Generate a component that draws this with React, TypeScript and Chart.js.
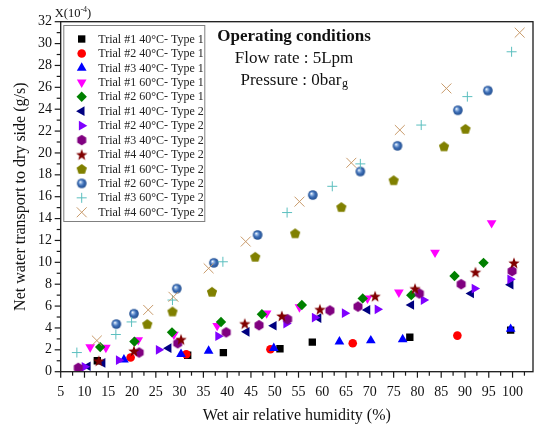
import React, { useEffect, useRef } from 'react';
import { Chart, registerables } from 'chart.js';
import { drawPoint } from 'chart.js/helpers';

Chart.register(...registerables);

// ---------------- data ----------------
const seriesNames = [
  'Trial #1 40°C- Type 1',
  'Trial #2 40°C- Type 1',
  'Trial #3 40°C- Type 1',
  'Trial #1 60°C- Type 1',
  'Trial #2 60°C- Type 1',
  'Trial #1 40°C- Type 2',
  'Trial #2 40°C- Type 2',
  'Trial #3 40°C- Type 2',
  'Trial #4 40°C- Type 2',
  'Trial #1 60°C- Type 2',
  'Trial #2 60°C- Type 2',
  'Trial #3 60°C- Type 2',
  'Trial #4 60°C- Type 2',
];

const t1_40_t1_x = [12.7, 31.7, 39.2, 51.1, 57.9, 78.4, 99.6];
const t1_40_t1_y = [1.0, 1.5, 1.75, 2.1, 2.7, 3.15, 3.8];
const t2_40_t1_x = [19.7, 31.4, 49.1, 66.4, 88.4];
const t2_40_t1_y = [1.3, 1.6, 2.05, 2.6, 3.3];
const t3_40_t1_x = [18.3, 30.3, 36.1, 49.8, 63.6, 70.2, 76.9, 99.6];
const t3_40_t1_y = [1.1, 1.6, 1.9, 2.15, 2.75, 2.85, 2.95, 3.9];
const t1_60_t1_x = [11.2, 14.5, 21.3, 28.8, 37.9, 48.3, 55.2, 69.5, 76.1, 83.7, 95.6];
const t1_60_t1_y = [2.25, 2.2, 2.9, 3.4, 4.2, 5.35, 5.9, 6.7, 7.25, 10.9, 13.6];
const t2_60_t1_x = [13.3, 20.5, 28.4, 38.7, 47.3, 55.7, 68.5, 78.7, 87.8, 93.9];
const t2_60_t1_y = [2.25, 2.75, 3.6, 4.55, 5.25, 6.1, 6.7, 7.0, 8.75, 9.95];
const t1_40_t2_x = [10.7, 13.8, 27.7, 44.1, 49.8, 59.2, 69.5, 78.7, 91.3, 99.6];
const t1_40_t2_y = [0.5, 0.8, 2.15, 3.65, 4.2, 4.9, 5.65, 6.1, 7.15, 7.95];
const t2_40_t2_x = [10.0, 17.2, 25.6, 38.1, 52.4, 58.4, 64.7, 71.6, 81.3, 92.0, 99.5];
const t2_40_t2_y = [0.45, 1.05, 2.0, 3.25, 4.4, 4.95, 5.35, 5.7, 6.55, 7.6, 8.45];
const t3_40_t2_x = [8.7, 21.5, 29.6, 39.8, 46.7, 52.7, 61.6, 67.5, 80.4, 89.2, 99.9];
const t3_40_t2_y = [0.35, 1.75, 2.6, 3.6, 4.25, 4.8, 5.6, 5.95, 7.15, 8.0, 9.2];
const t4_40_t2_x = [13.0, 20.4, 30.3, 43.7, 51.5, 59.5, 71.1, 79.5, 92.2, 100.3];
const t4_40_t2_y = [1.0, 1.9, 2.95, 4.4, 5.1, 5.7, 6.9, 7.6, 9.1, 9.95];
const t1_60_t2_x = [23.2, 28.5, 36.8, 45.9, 54.3, 64.0, 75.0, 85.6, 90.1];
const t1_60_t2_y = [4.35, 5.5, 7.3, 10.5, 12.65, 15.05, 17.5, 20.6, 22.2];
const t2_60_t2_x = [16.7, 20.4, 29.4, 37.2, 46.4, 58.0, 68.0, 75.8, 88.5, 94.8];
const t2_60_t2_y = [4.35, 5.3, 7.6, 9.95, 12.5, 16.15, 18.3, 20.65, 23.9, 25.7];
const t3_60_t2_x = [8.4, 16.6, 19.9, 28.5, 39.1, 52.6, 62.1, 68.0, 80.8, 90.5, 99.8];
const t3_60_t2_y = [1.75, 3.4, 4.55, 6.55, 10.05, 14.55, 16.95, 19.0, 22.55, 25.15, 29.25];
const t4_60_t2_x = [12.6, 23.4, 28.7, 36.1, 43.9, 55.2, 66.1, 76.3, 86.1, 101.5];
const t4_60_t2_y = [2.85, 5.65, 6.85, 9.45, 11.9, 15.55, 19.1, 22.1, 25.9, 31.0];

const seriesX = [t1_40_t1_x, t2_40_t1_x, t3_40_t1_x, t1_60_t1_x, t2_60_t1_x, t1_40_t2_x, t2_40_t2_x, t3_40_t2_x, t4_40_t2_x, t1_60_t2_x, t2_60_t2_x, t3_60_t2_x, t4_60_t2_x];
const seriesY = [t1_40_t1_y, t2_40_t1_y, t3_40_t1_y, t1_60_t1_y, t2_60_t1_y, t1_40_t2_y, t2_40_t2_y, t3_40_t2_y, t4_40_t2_y, t1_60_t2_y, t2_60_t2_y, t3_60_t2_y, t4_60_t2_y];

const xMin = 5, xMax = 104.3, xStep = 5, xMinor = 2.5;
const yMin = 0, yMax = 32, yStep = 2, yMinor = 1;

const xTitle = 'Wet air relative humidity (%)';
const yTitle = 'Net water transport to dry side (g/s)';
const noteTitle = 'Operating conditions';
const noteFlow = 'Flow rate : 5Lpm';
const notePressure = 'Pressure : 0bar';
const notePressureSub = 'g';

const SERIF = '"Liberation Serif", "Times New Roman", serif';

// ---------------- marker images ----------------
function makeCanvas(size: number, draw: (ctx: CanvasRenderingContext2D, c: number) => void) {
  const cv = document.createElement('canvas');
  cv.width = size;
  cv.height = size;
  const ctx = cv.getContext('2d')!;
  draw(ctx, size / 2);
  return cv;
}

function polygon(ctx: CanvasRenderingContext2D, c: number, r: number, n: number, start: number) {
  ctx.beginPath();
  for (let k = 0; k < n; k++) {
    const a = start + (k * 2 * Math.PI) / n;
    const px = c + r * Math.cos(a);
    const py = c + r * Math.sin(a);
    if (k === 0) ctx.moveTo(px, py); else ctx.lineTo(px, py);
  }
  ctx.closePath();
}

function makeShapes() {
  const hexagon = makeCanvas(14, (ctx, c) => {
    ctx.fillStyle = '#800080';
    polygon(ctx, c, 5.2, 6, -Math.PI / 2);
    ctx.fill();
  });
  const pentagon = makeCanvas(14, (ctx, c) => {
    ctx.fillStyle = '#808000';
    ctx.save();
    ctx.translate(0, 0.5);
    polygon(ctx, c, 5.4, 5, -Math.PI / 2);
    ctx.fill();
    ctx.restore();
  });
  const star = makeCanvas(14, (ctx, c) => {
    ctx.fillStyle = '#800000';
    ctx.beginPath();
    for (let k = 0; k < 10; k++) {
      const r = k % 2 === 0 ? 6 : 2.5;
      const a = -Math.PI / 2 + (k * Math.PI) / 5;
      const px = c + r * Math.cos(a);
      const py = c + 0.6 + r * Math.sin(a);
      if (k === 0) ctx.moveTo(px, py); else ctx.lineTo(px, py);
    }
    ctx.closePath();
    ctx.fill();
  });
  const sphere = makeCanvas(12, (ctx, c) => {
    const g = ctx.createRadialGradient(c - 1.6, c - 1.6, 0.2, c, c, 4.8);
    g.addColorStop(0, '#ffffff');
    g.addColorStop(0.22, '#9dbde6');
    g.addColorStop(0.55, '#3f70b8');
    g.addColorStop(1, '#1f4c8e');
    ctx.fillStyle = g;
    ctx.beginPath();
    ctx.arc(c, c, 4.8, 0, Math.PI * 2);
    ctx.fill();
  });
  return { hexagon, pentagon, star, sphere };
}

// ---------------- plugin ----------------
const decorPlugin = {
  id: 'decor',
  afterDraw(chart: any) {
    const { ctx, chartArea: a, scales } = chart;
    const xs = scales.x, ys = scales.y;
    ctx.save();

    // frame
    ctx.strokeStyle = '#1a1a1a';
    ctx.lineWidth = 1.3;
    ctx.strokeRect(a.left, a.top, a.right - a.left, a.bottom - a.top);

    // ticks
    ctx.lineWidth = 1.2;
    for (let v = xMin; v <= xMax + 1e-6; v += xMinor) {
      const px = xs.getPixelForValue(v);
      const major = Math.abs(v / xStep - Math.round(v / xStep)) < 1e-6;
      ctx.beginPath();
      ctx.moveTo(px, a.bottom);
      ctx.lineTo(px, a.bottom + (major ? 6 : 4));
      ctx.stroke();
    }
    for (let v = yMin; v <= yMax + 1e-6; v += yMinor) {
      const py = ys.getPixelForValue(v);
      const major = Math.abs(v / yStep - Math.round(v / yStep)) < 1e-6;
      ctx.beginPath();
      ctx.moveTo(a.left, py);
      ctx.lineTo(a.left - (major ? 6 : 4), py);
      ctx.stroke();
    }

    // exponent label
    ctx.fillStyle = '#111';
    ctx.textBaseline = 'alphabetic';
    ctx.textAlign = 'left';
    let lx = a.left - 6;
    ctx.font = `12.5px ${SERIF}`;
    ctx.fillText('X(10', lx, 16.7);
    lx += ctx.measureText('X(10').width;
    ctx.font = `8px ${SERIF}`;
    ctx.fillText('-4', lx, 11.5);
    lx += ctx.measureText('-4').width;
    ctx.font = `12.5px ${SERIF}`;
    ctx.fillText(')', lx, 16.7);

    // axis titles
    ctx.font = `16px ${SERIF}`;
    ctx.textAlign = 'center';
    ctx.fillText(xTitle, (a.left + a.right) / 2, 420);
    ctx.save();
    ctx.translate(21, (a.top + a.bottom) / 2);
    ctx.rotate(-Math.PI / 2);
    ctx.textBaseline = 'middle';
    ctx.fillText(yTitle, 0, 0);
    ctx.restore();

    // operating conditions
    const cx = 294;
    ctx.textAlign = 'center';
    ctx.font = `bold 17px ${SERIF}`;
    ctx.fillText(noteTitle, cx, 40.7);
    ctx.font = `17px ${SERIF}`;
    ctx.fillText(noteFlow, cx, 62.7);
    ctx.textAlign = 'left';
    const w1 = ctx.measureText(notePressure).width;
    ctx.font = `12px ${SERIF}`;
    const w2 = ctx.measureText(notePressureSub).width;
    const sx = cx - (w1 + w2) / 2;
    ctx.font = `17px ${SERIF}`;
    ctx.fillText(notePressure, sx, 85);
    ctx.font = `12px ${SERIF}`;
    ctx.fillText(notePressureSub, sx + w1 + 0.5, 87);

    // legend
    const bx = 63.3, by = 25, bw = 141, bh = 196;
    ctx.fillStyle = '#fff';
    ctx.fillRect(bx, by, bw, bh);
    ctx.strokeStyle = '#808080';
    ctx.lineWidth = 1;
    ctx.strokeRect(bx + 0.5, by + 0.5, bw, bh);
    ctx.font = `12px ${SERIF}`;
    ctx.textBaseline = 'middle';
    ctx.textAlign = 'left';
    chart.data.datasets.forEach((ds: any, i: number) => {
      const ly = 39 + i * 14.44;
      const meta = chart.getDatasetMeta(i);
      const el = meta.data[0];
      const o = el.options;
      ctx.save();
      ctx.fillStyle = o.backgroundColor;
      ctx.strokeStyle = o.borderColor;
      ctx.lineWidth = o.borderWidth;
      drawPoint(ctx, { pointStyle: o.pointStyle, rotation: o.rotation, radius: o.radius, borderWidth: o.borderWidth }, 81.7, ly);
      ctx.restore();
      ctx.fillStyle = '#222';
      ctx.fillText(ds.label, 98.3, ly + 0.5);
    });

    ctx.restore();
  },
};

export default function App() {
  const ref = useRef<HTMLCanvasElement | null>(null);

  useEffect(() => {
    if (!ref.current) return;
    const shapes = makeShapes();
    const styles: any[] = [
      { pointStyle: 'rect', radius: 5.2, color: '#000000' },
      { pointStyle: 'circle', radius: 4.3, color: '#ff0000' },
      { pointStyle: 'triangle', radius: 5.6, color: '#0000ff' },
      { pointStyle: 'triangle', radius: 5.6, rotation: 180, color: '#ff00ff' },
      { pointStyle: 'rectRot', radius: 5.2, color: '#008000' },
      { pointStyle: 'triangle', radius: 5.6, rotation: 270, color: '#000080' },
      { pointStyle: 'triangle', radius: 5.6, rotation: 90, color: '#8000ff' },
      { pointStyle: shapes.hexagon, radius: 5, color: '#800080' },
      { pointStyle: shapes.star, radius: 5, color: '#800000' },
      { pointStyle: shapes.pentagon, radius: 5, color: '#808000' },
      { pointStyle: shapes.sphere, radius: 5, color: '#3f70b8' },
      { pointStyle: 'cross', radius: 5, color: '#5cbfbf', stroke: true },
      { pointStyle: 'crossRot', radius: 7, color: '#c89a6a', stroke: true },
    ];
    const datasets = seriesNames.map((name, i) => {
      const s = styles[i];
      return {
        label: name,
        data: seriesX[i].map((xv, j) => ({ x: xv, y: seriesY[i][j] })),
        pointStyle: s.pointStyle,
        pointRadius: s.radius,
        pointRotation: s.rotation || 0,
        backgroundColor: s.color,
        borderColor: s.color,
        pointBorderWidth: s.stroke ? 1 : 0,
        showLine: false,
        order: seriesNames.length - i,
      };
    });

    const chart = new Chart(ref.current, {
      type: 'scatter',
      data: { datasets },
      options: {
        animation: false,
        responsive: false,
        maintainAspectRatio: false,
        devicePixelRatio: 1,
        layout: { padding: { top: 21.7, right: 1.7, left: 0, bottom: 0 } },
        plugins: { legend: { display: false }, tooltip: { enabled: false } },
        scales: {
          x: {
            type: 'linear',
            min: xMin,
            max: xMax,
            afterFit: (s: any) => { s.height = 59.3; },
            grid: { display: false, drawTicks: false },
            border: { display: false },
            ticks: {
              stepSize: xStep,
              includeBounds: false,
              padding: 12,
              maxRotation: 0,
              autoSkip: false,
              color: '#111',
              font: { family: SERIF, size: 14 },
            },
          },
          y: {
            type: 'linear',
            min: yMin,
            max: yMax,
            afterFit: (s: any) => { s.width = 60.7; },
            grid: { display: false, drawTicks: false },
            border: { display: false },
            ticks: {
              stepSize: yStep,
              includeBounds: false,
              padding: 8.7,
              autoSkip: false,
              color: '#111',
              font: { family: SERIF, size: 14 },
            },
          },
        },
      } as any,
      plugins: [decorPlugin],
    });
    return () => chart.destroy();
  }, []);

  return (
    <div style={{ position: 'absolute', left: 0, top: 0, width: 541, height: 431, background: '#fff' }}>
      <canvas ref={ref} width={541} height={431} style={{ width: 541, height: 431, display: 'block' }} />
    </div>
  );
}
